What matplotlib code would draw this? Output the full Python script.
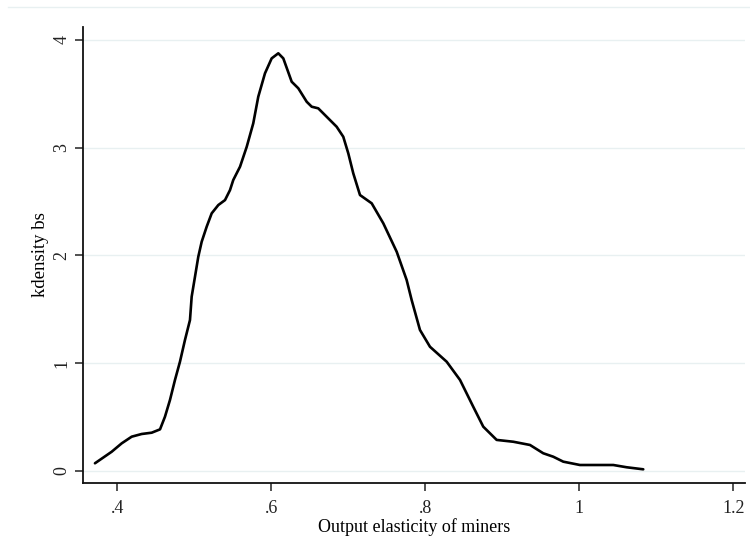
import matplotlib
matplotlib.use("Agg")
import matplotlib.pyplot as plt
from matplotlib.lines import Line2D

# kernel density estimate of the bootstrap elasticities
elasticity = [0.3710, 0.3927, 0.4057, 0.4187, 0.4317, 0.4447, 0.4555, 0.4619,
              0.4684, 0.4749, 0.4814, 0.4879, 0.4944, 0.4966, 0.5009, 0.5052,
              0.5096, 0.5161, 0.5226, 0.5312, 0.5399, 0.5464, 0.5506, 0.5594,
              0.5681, 0.5766, 0.5831, 0.5918, 0.6005, 0.6091, 0.6156, 0.6265,
              0.6351, 0.6460, 0.6525, 0.6610, 0.6719, 0.6849, 0.6935, 0.7000,
              0.7065, 0.7152, 0.7304, 0.7455, 0.7629, 0.7758, 0.7823, 0.7931,
              0.8061, 0.8278, 0.8451, 0.8623, 0.8753, 0.8927, 0.9143, 0.9360,
              0.9532, 0.9662, 0.9792, 1.0009, 1.0442, 1.0615, 1.0831]
density = [0.069, 0.176, 0.254, 0.316, 0.341, 0.353, 0.384, 0.501,
           0.656, 0.842, 1.012, 1.214, 1.399, 1.616, 1.801, 1.987,
           2.126, 2.266, 2.390, 2.467, 2.513, 2.606, 2.699, 2.823,
           3.008, 3.226, 3.473, 3.690, 3.829, 3.876, 3.829, 3.612,
           3.551, 3.426, 3.380, 3.365, 3.287, 3.194, 3.101, 2.947,
           2.761, 2.560, 2.483, 2.297, 2.033, 1.771, 1.585, 1.307,
           1.151, 1.012, 0.843, 0.594, 0.409, 0.286, 0.269, 0.239,
           0.162, 0.130, 0.084, 0.053, 0.053, 0.032, 0.013]

xticks = [0.4, 0.6, 0.8, 1.0, 1.2]
xticklabels = [".4", ".6", ".8", "1", "1.2"]
yticks = [0, 1, 2, 3, 4]

plt.rcParams['font.family'] = ['Liberation Serif', 'DejaVu Serif']

fig = plt.figure(figsize=(7.5, 5.54), dpi=100)
ax = fig.add_axes([0.1107, 0.1276, 0.8826, 0.8242])

ax.plot(elasticity, density, color='black', linewidth=1.9,
        solid_joinstyle='round', solid_capstyle='round')

ax.set_xlim(0.3555, 1.2152)
ax.set_ylim(-0.117, 4.123)
ax.set_xticks(xticks)
ax.set_xticklabels(xticklabels)
ax.set_yticks(yticks)
ax.set_yticklabels([str(v) for v in yticks], rotation=90, va='center')

ax.grid(axis='y', color='#e8f0f1', linewidth=1.0)
ax.set_axisbelow(True)

for side in ['top', 'right']:
    ax.spines[side].set_visible(False)
for side in ['left', 'bottom']:
    ax.spines[side].set_linewidth(1.3)
    ax.spines[side].set_color('#111111')

ax.tick_params(axis='both', direction='out', length=6, width=1.2,
               color='#333333', labelsize=13, labelcolor='#222222')
ax.tick_params(axis='x', pad=6)
ax.tick_params(axis='y', pad=3)

ax.set_xlabel('Output elasticity of miners', fontsize=13, labelpad=1)
ax.set_ylabel('kdensity bs', fontsize=13.5, labelpad=3)

# faint outline along the top of the graph region
fig.add_artist(Line2D([0.01, 1.0], [0.987, 0.987], transform=fig.transFigure,
                      color='#e8f0f1', linewidth=1.0))

fig.savefig('out.png', dpi=100, facecolor='white')
